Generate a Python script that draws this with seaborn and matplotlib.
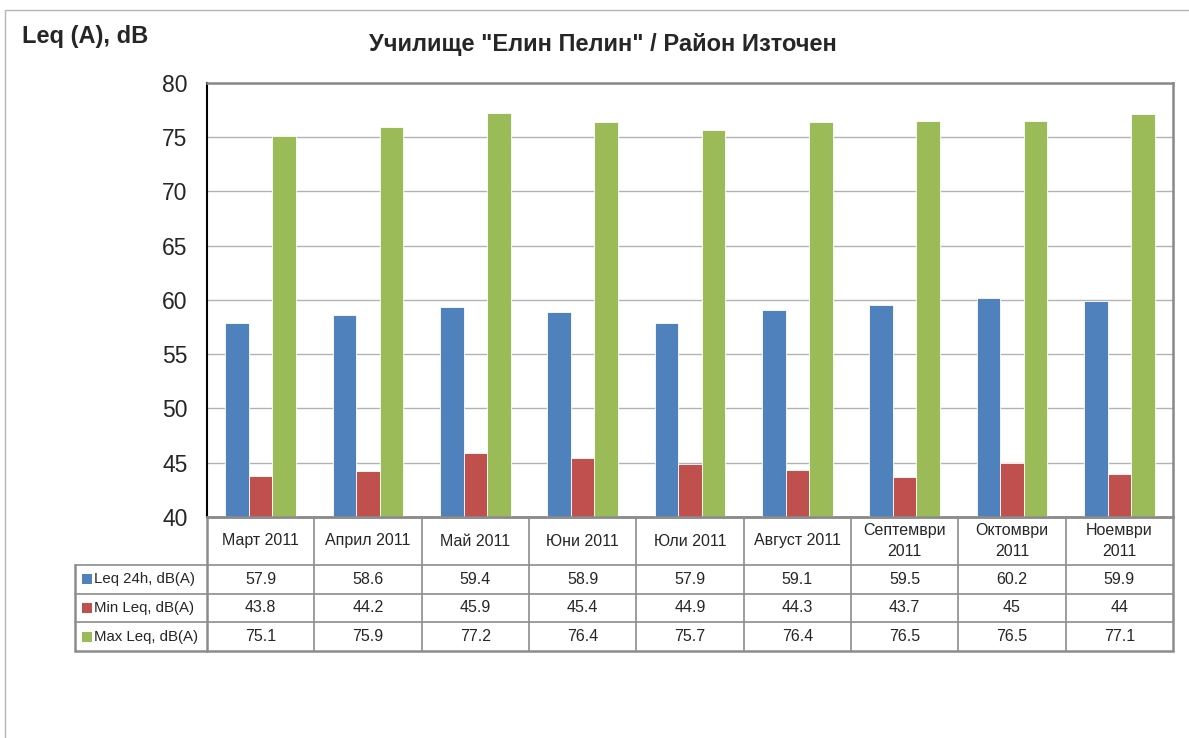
import numpy as np
import pandas as pd
import matplotlib
matplotlib.use('Agg')
import matplotlib.pyplot as plt
from matplotlib.patches import Rectangle
import seaborn as sns

# data
months = ['Март 2011', 'Април 2011', 'Май 2011', 'Юни 2011', 'Юли 2011',
          'Август 2011', 'Септември\n2011', 'Октомври\n2011', 'Ноември\n2011']
series_names = ['Leq 24h, dB(A)', 'Min Leq, dB(A)', 'Max Leq, dB(A)']
leq_24h = [57.9, 58.6, 59.4, 58.9, 57.9, 59.1, 59.5, 60.2, 59.9]
min_leq = [43.8, 44.2, 45.9, 45.4, 44.9, 44.3, 43.7, 45, 44]
max_leq = [75.1, 75.9, 77.2, 76.4, 75.7, 76.4, 76.5, 76.5, 77.1]
colors = ['#4F81BD', '#C0504D', '#9BBB59']
yticks = [40, 45, 50, 55, 60, 65, 70, 75, 80]

all_values = [leq_24h, min_leq, max_leq]
df = pd.DataFrame({
    'month': months * 3,
    'series': np.repeat(series_names, len(months)),
    'value': leq_24h + min_leq + max_leq,
})

sns.set_style('white')
plt.rcParams['font.family'] = ['Liberation Sans', 'DejaVu Sans']

W, H = 1189, 738
fig = plt.figure(figsize=(W / 100, H / 100), dpi=100)

# plot area in pixels
left, right, top, bottom = 207, 1173, 83, 517
ax = fig.add_axes([left / W, 1 - bottom / H, (right - left) / W, (bottom - top) / H])

sns.barplot(data=df, x='month', y='value', hue='series', palette=colors,
            saturation=1, width=0.66, gap=0, edgecolor='white', linewidth=0.6,
            legend=False, ax=ax, zorder=3)
ax.set_ylim(40, 80)
ax.set_yticks(yticks)
ax.set_xticks([])
ax.set_xlabel('')
ax.set_ylabel('')
ax.tick_params(axis='y', length=0, pad=14, labelsize=16.5)
ax.grid(axis='y', color='#b3b3b3', linewidth=1.0, zorder=0)
ax.set_axisbelow(True)
ax.spines['left'].set_color('black')
ax.spines['left'].set_linewidth(1.5)
for s in ['top', 'right', 'bottom']:
    ax.spines[s].set_color('#888888')
    ax.spines[s].set_linewidth(1.8)

# overlay in pixel coordinates for table and frame
ov = fig.add_axes([0, 0, 1, 1])
ov.set_xlim(0, W)
ov.set_ylim(H, 0)
ov.axis('off')

ov.add_patch(Rectangle((5, 10), W + 20, H + 20, fill=False,
                       edgecolor='#b5b5b5', linewidth=1.0))

fig.text(22 / W, 1 - 37 / H, 'Leq (A), dB', fontsize=17, fontweight='bold',
         ha='left', va='center')
fig.text(603 / W, 1 - 44 / H, 'Училище "Елин Пелин" / Район Източен',
         fontsize=17, fontweight='bold', ha='center', va='center')

# data table below the plot
n = len(months)
col_edges = np.linspace(left, right, n + 1)
row_edges = [517, 565, 593.5, 622, 651]
tab_left = 75
lc = '#8c8c8c'
fs = 11.5

# horizontal lines
ov.plot([left, right], [row_edges[0], row_edges[0]], color=lc, lw=1.8)
for y in row_edges[1:-1]:
    ov.plot([tab_left, right], [y, y], color=lc, lw=1.2)
ov.plot([tab_left, right], [row_edges[-1], row_edges[-1]], color=lc, lw=1.8)
# vertical lines
ov.plot([tab_left, tab_left], [row_edges[1], row_edges[-1]], color=lc, lw=1.8)
for i, x in enumerate(col_edges):
    lw = 1.8 if i in (0, n) else 1.2
    ov.plot([x, x], [row_edges[0], row_edges[-1]], color=lc, lw=lw)

# header
for i, m in enumerate(months):
    xc = (col_edges[i] + col_edges[i + 1]) / 2
    ov.text(xc, (row_edges[0] + row_edges[1]) / 2, m, ha='center', va='center',
            fontsize=fs, linespacing=1.45)

# rows
for r, (name, vals, c) in enumerate(zip(series_names, all_values, colors)):
    yc = (row_edges[r + 1] + row_edges[r + 2]) / 2
    ov.add_patch(Rectangle((82, yc - 5), 10, 10, facecolor=c, edgecolor='none'))
    ov.text(94, yc, name, ha='left', va='center', fontsize=10.8)
    for i, v in enumerate(vals):
        xc = (col_edges[i] + col_edges[i + 1]) / 2
        ov.text(xc, yc, f'{v:g}', ha='center', va='center', fontsize=fs)

fig.savefig('out.png', dpi=100)
